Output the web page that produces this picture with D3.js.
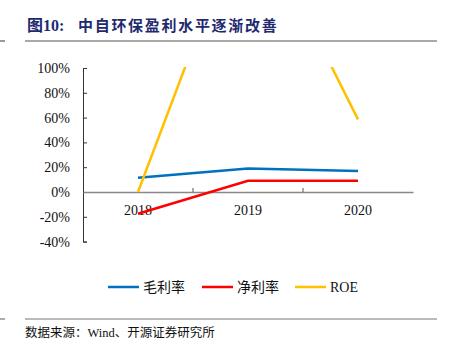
<!DOCTYPE html>
<html><head><meta charset="utf-8">
<script src="https://cdn.jsdelivr.net/npm/d3@7"></script>
<style>body{margin:0;background:#fff;} svg{display:block;} .sf{font-family:"Liberation Serif","Times New Roman","Noto Sans CJK SC",serif;}</style>
</head><body>
<script>
const categories = ["2018", "2019", "2020"];
const grossMargin = [11.5, 19, 17];
const netMargin = [-17.5, 9, 9];
const roe = [0, 235, 58.6];
const yTicks = [-40, -20, 0, 20, 40, 60, 80, 100];
const seriesNames = ["毛利率", "净利率", "ROE"];
const colors = ["#0070C0", "#FF0000", "#FFC000"];

const W = 452, H = 356;
const svg = d3.select("body").append("svg").attr("width", W).attr("height", H);

// header
svg.append("text").attr("class", "sf").attr("x", 27).attr("y", 31).attr("fill", "#1F2A6E")
  .attr("font-size", 16).attr("font-weight", "bold")
  .text("图10:");
svg.append("text").attr("x", 78).attr("y", 31).attr("fill", "#1F2A6E")
  .style("font-family", "'Noto Sans CJK SC',sans-serif").attr("font-size", 15).attr("font-weight", "bold")
  .attr("letter-spacing", 1.7)
  .text("中自环保盈利水平逐渐改善");
svg.append("line").attr("x1", 25).attr("x2", 437).attr("y1", 41).attr("y2", 41).attr("stroke", "#555").attr("stroke-width", 1.2);
svg.append("line").attr("x1", 0).attr("x2", 5).attr("y1", 41).attr("y2", 41).attr("stroke", "#555").attr("stroke-width", 1.2);
svg.append("line").attr("x1", 25).attr("x2", 437).attr("y1", 319).attr("y2", 319).attr("stroke", "#777").attr("stroke-width", 1.2);
svg.append("line").attr("x1", 0).attr("x2", 5).attr("y1", 319).attr("y2", 319).attr("stroke", "#777").attr("stroke-width", 1.2);
svg.append("text").attr("class", "sf").attr("x", 25).attr("y", 337).attr("fill", "#111")
  .attr("font-size", 12.5)
  .text("数据来源：Wind、开源证券研究所");

// scales
const x = d3.scaleBand().domain(categories).range([83, 413]);
const y = d3.scaleLinear().domain([-40, 100]).range([241.6, 68]);

// clip
svg.append("clipPath").attr("id", "clip").append("rect")
  .attr("x", 83).attr("y", 67).attr("width", 330).attr("height", 176);

// y axis
const yAxis = svg.append("g").attr("transform", "translate(83,0)")
  .call(d3.axisRight(y).tickValues(yTicks).tickSize(4).tickFormat(""));
yAxis.select(".domain").attr("stroke", "#333");
yAxis.selectAll(".tick line").attr("stroke", "#333");
svg.append("g").selectAll("text").data(yTicks).join("text").attr("class", "sf")
  .attr("x", 70).attr("y", d => y(d)).attr("dy", "0.35em").attr("text-anchor", "end")
  .attr("font-size", 14).attr("fill", "#111")
  .text(d => d + "%");

// x axis at 0
const xAxis = svg.append("g").attr("transform", `translate(0,${y(0)})`)
  .call(d3.axisTop(x).tickSize(0).tickFormat(""));
xAxis.select(".domain").attr("stroke", "#888").attr("stroke-width", 1.5);
svg.append("g").selectAll("line").data(categories.slice(1)).join("line")
  .attr("x1", d => x(d)).attr("x2", d => x(d))
  .attr("y1", y(0) - 4).attr("y2", y(0)).attr("stroke", "#555");
svg.append("g").selectAll("text").data(categories).join("text").attr("class", "sf")
  .attr("x", d => x(d) + x.bandwidth() / 2).attr("y", y(0) + 23)
  .attr("text-anchor", "middle").attr("font-size", 14).attr("fill", "#111")
  .text(d => d);

// lines
const line = d3.line().x((d, i) => x(categories[i]) + x.bandwidth() / 2).y(d => y(d));
const g = svg.append("g").attr("clip-path", "url(#clip)");
[grossMargin, netMargin, roe].forEach((s, i) => {
  g.append("path").datum(s).attr("d", line).attr("fill", "none")
    .attr("stroke", colors[i]).attr("stroke-width", 2.5);
});

// legend
const legX = [108, 202, 295];
seriesNames.forEach((n, i) => {
  svg.append("line").attr("x1", legX[i]).attr("x2", legX[i] + 31).attr("y1", 287).attr("y2", 287)
    .attr("stroke", colors[i]).attr("stroke-width", 2.5);
  svg.append("text").attr("class", "sf").attr("x", legX[i] + 35).attr("y", 287).attr("dy", "0.35em")
    .attr("font-size", 14).attr("fill", "#111").text(n);
});
</script>
</body></html>
